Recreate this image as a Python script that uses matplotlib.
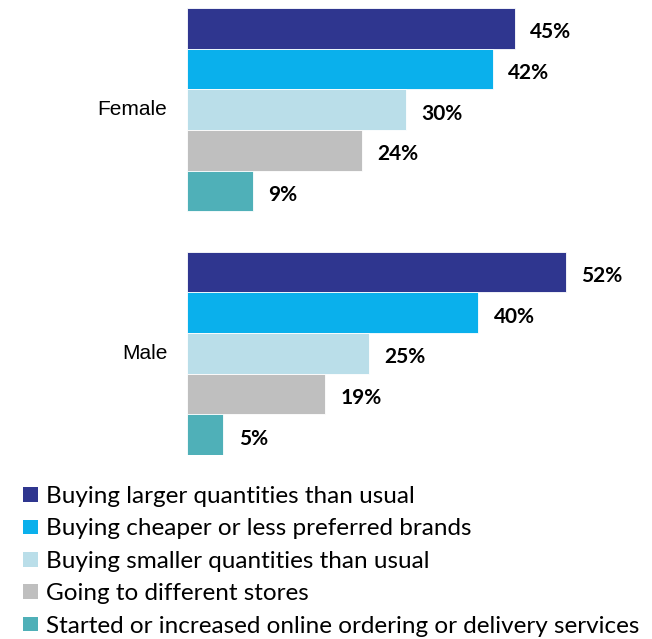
import matplotlib.pyplot as plt
from matplotlib.patches import Patch

# survey answers, share of respondents by gender
groups = ['Female', 'Male']
behaviours = ['Buying larger quantities than usual',
              'Buying cheaper or less preferred brands',
              'Buying smaller quantities than usual',
              'Going to different stores',
              'Started or increased online ordering or delivery services']
female = [45, 42, 30, 24, 9]
male = [52, 40, 25, 19, 5]
colors = ['#2f368f', '#0ab0ec', '#badee9', '#bfbfbf', '#4fb0b8']

fig = plt.figure(figsize=(6.52, 6.39), dpi=100)
ax = fig.add_axes([187 / 652, 1 - 455 / 639, 437 / 652, 447 / 639])

for g, values in enumerate([female, male]):
    base = g * 6
    for i, v in enumerate(values):
        y = base + i
        ax.barh(y, v, height=1.0, color=colors[i], edgecolor='white', linewidth=0.6)
        ax.text(v + 2.1, y + 0.1, f'{v}%', va='center', ha='left',
                fontsize=15, fontweight='bold', family='Lato')
    ax.text(-2.7, base + 2, groups[g], va='center', ha='right', fontsize=15,
            family='Liberation Sans')

ax.set_xlim(0, 60)
ax.set_ylim(10.5, -0.5)
ax.axis('off')

handles = [Patch(facecolor=c, edgecolor='none') for c in colors]
fig.legend(handles, behaviours, loc='upper left', bbox_to_anchor=(23 / 652, 1 - 486 / 639),
           frameon=False, prop={'family': 'Lato', 'size': 17.5}, handlelength=0.62,
           handleheight=0.55, handletextpad=0.33, labelspacing=0.47, borderpad=0,
           borderaxespad=0)

fig.savefig('out.png', dpi=100)
